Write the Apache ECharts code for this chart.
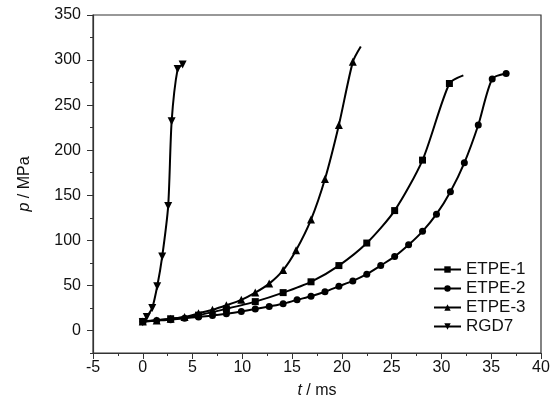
<!DOCTYPE html>
<html>
<head>
    <meta charset="utf-8" />
    <title></title>
    <script src="https://cdn.jsdelivr.net/npm/echarts@6/dist/echarts.min.js"></script>
    <style>
        html, body { margin: 0; padding: 0; background: #fff; }
    </style>
</head>
<body>
    <div id="main" style="width:555px;height:404px;"></div>
    <script>
        // 数据
        var seriesNames = ['ETPE-1', 'ETPE-2', 'ETPE-3', 'RGD7'];

        var t1 = [0, 2.8, 5.6, 8.4, 11.3, 14.1, 16.9, 19.7, 22.5, 25.3, 28.1, 30.8, 32.2];
        var p1 = [10, 13, 17, 24, 32, 42, 54, 72, 97, 133, 189, 274, 283];

        var t2 = [0, 1.4, 2.8, 4.2, 5.6, 7.0, 8.4, 9.9, 11.3, 12.7, 14.1, 15.5, 16.9, 18.3, 19.7,
                  21.1, 22.5, 23.9, 25.3, 26.7, 28.1, 29.5, 30.9, 32.3, 33.7, 35.1, 36.5];
        var p2 = [10, 11, 12, 13.5, 15, 16.5, 18.5, 21, 23.7, 26.6, 29.6, 34, 38, 43, 49,
                  55, 62.5, 72, 82, 95, 110, 129, 154, 186, 228, 279, 285];

        var t3 = [0, 1.4, 2.8, 4.2, 5.6, 7.0, 8.4, 9.9, 11.3, 12.7, 14.1, 15.4, 16.9, 18.3, 19.7, 21.1, 21.9];
        var p3 = [10, 11, 13, 15, 19, 23, 28, 34, 42, 52, 67, 89, 123, 168, 228, 298, 315];

        var t4 = [0, 0.4, 0.95, 1.45, 1.95, 2.55, 2.9, 3.5, 4.0];
        var p4 = [9, 15, 25, 49, 82, 138, 232, 290, 295];

        var xTicks = [-5, 0, 5, 10, 15, 20, 25, 30, 35, 40];
        var yTicks = [0, 50, 100, 150, 200, 250, 300, 350];

        var font = "'Liberation Sans', Arial, sans-serif";
        var downTri = 'path://M0,0 L10,0 L5,9 Z';

        function pairs(ts, ps, tailNoMark) {
            return ts.map(function (t, i) {
                var d = { value: [t, ps[i]] };
                if (tailNoMark && i === ts.length - 1) d.symbol = 'none';
                return d;
            });
        }

        function lineSeries(name, data, symbol, size) {
            return {
                name: name,
                type: 'line',
                data: data,
                smooth: 0.25,
                symbol: symbol,
                symbolSize: size,
                showAllSymbol: true,
                lineStyle: { color: '#000', width: 2 },
                itemStyle: { color: '#000' }
            };
        }

        var myChart = echarts.init(document.getElementById('main'));
        var option = {
            animation: false,
            backgroundColor: '#fff',
            grid: { left: 93, right: 14, top: 15, bottom: 50, show: true, borderColor: '#333', borderWidth: 1.2 },
            legend: {
                orient: 'vertical',
                left: 433,
                top: 261,
                padding: 0,
                itemWidth: 27,
                itemHeight: 8,
                itemGap: 2,
                data: seriesNames,
                textStyle: { fontFamily: font, fontSize: 17, color: '#111' }
            },
            xAxis: {
                type: 'value',
                min: -5,
                max: 40,
                interval: 5,
                name: '{i|t} / ms',
                nameLocation: 'middle',
                nameGap: 30,
                nameTextStyle: {
                    fontFamily: font, fontSize: 16, color: '#111',
                    rich: { i: { fontStyle: 'italic', fontFamily: font, fontSize: 16 } }
                },
                axisLine: { show: true, onZero: false, lineStyle: { color: '#333', width: 1.2 } },
                axisTick: { show: true, length: 6, lineStyle: { color: '#333' } },
                minorTick: { show: true, splitNumber: 2, length: 3, lineStyle: { color: '#333' } },
                splitLine: { show: false },
                axisLabel: {
                    margin: 7, fontFamily: font, fontSize: 16, color: '#111',
                    customValues: xTicks
                }
            },
            yAxis: [{
                type: 'value',
                min: -25,
                max: 350,
                interval: 25,
                name: '{i|p} / MPa',
                nameLocation: 'middle',
                nameGap: 60,
                nameTextStyle: {
                    fontFamily: font, fontSize: 16, color: '#111',
                    rich: { i: { fontStyle: 'italic', fontFamily: font, fontSize: 16 } }
                },
                axisLine: { show: true, onZero: false, lineStyle: { color: '#333', width: 1.2 } },
                axisTick: { show: true, length: 3, lineStyle: { color: '#333' } },
                splitLine: { show: false },
                axisLabel: {
                    margin: 12, fontFamily: font, fontSize: 16, color: '#111',
                    customValues: yTicks
                }
            }, {
                type: 'value',
                position: 'left',
                min: -25,
                max: 350,
                interval: 25,
                axisLine: { show: false, onZero: false },
                axisTick: { show: true, length: 6, lineStyle: { color: '#333' }, customValues: yTicks },
                axisLabel: { show: false },
                splitLine: { show: false }
            }],
            series: [
                lineSeries(seriesNames[0], pairs(t1, p1, true), 'rect', 7),
                lineSeries(seriesNames[1], pairs(t2, p2, false), 'circle', 7),
                lineSeries(seriesNames[2], pairs(t3, p3, true), 'triangle', 8),
                lineSeries(seriesNames[3], pairs(t4, p4, false), downTri, 8)
            ]
        };
        myChart.setOption(option);
    </script>
</body>
</html>
